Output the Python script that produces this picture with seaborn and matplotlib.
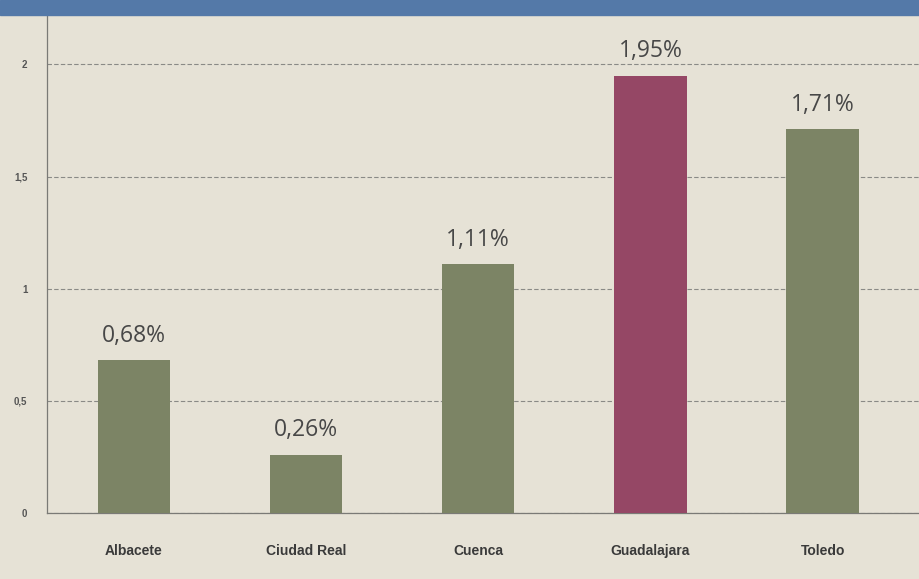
import matplotlib.pyplot as plt
import seaborn as sns
import pandas as pd
import numpy as np

provincias = ["Albacete", "Ciudad Real", "Cuenca", "Guadalajara", "Toledo"]
valores = [0.68, 0.26, 1.11, 1.95, 1.71]
destacado = ["no", "no", "no", "si", "no"]
y_ticks = [0, 0.5, 1, 1.5, 2]
y_tick_labels = ["0", "0,5", "1", "1,5", "2"]

df = pd.DataFrame({"provincia": provincias, "valor": valores, "grupo": destacado})

sns.set_theme(style="white")
plt.rcParams["font.family"] = ["Liberation Sans", "DejaVu Sans"]

fig = plt.figure(figsize=(9.19, 5.79), dpi=100)
fig.patch.set_facecolor("#e6e2d6")
ax = fig.add_axes([0.051, 0.114, 0.949, 0.86])
ax.set_facecolor("#e6e2d6")

# banda azul superior
fig.add_artist(plt.Rectangle((0, 0.974), 1, 0.026, transform=fig.transFigure,
                             color="#5479a8", zorder=5))

sns.barplot(data=df, x="provincia", y="valor", hue="grupo",
            palette={"no": "#7e8960", "si": "#a23a62"},
            dodge=False, width=0.42, legend=False, ax=ax, zorder=3,
            linewidth=0, edgecolor="none")

for cont in ax.containers:
    etiquetas = [f"{v:.2f}%".replace(".", ",") if not np.isnan(v) else ""
                 for v in cont.datavalues]
    ax.bar_label(cont, labels=etiquetas, padding=9, fontsize=16.5,
                 color="#474747", fontweight="medium",
                 family=["Open Sans", "DejaVu Sans"])

ax.set_ylim(0, 2.22)
ax.set_xlim(-0.505, 4.56)
ax.set_yticks(y_ticks)
ax.set_yticklabels(y_tick_labels, fontsize=7, fontweight="bold", color="#555555")
ax.yaxis.grid(True, linestyle=(0, (4, 2)), color="#8a8a86", linewidth=0.8, zorder=0)
ax.set_xticks(range(len(provincias)))
ax.set_xticklabels(provincias, fontsize=10, fontweight="bold", color="#3a3a3a")
ax.set_xticks(np.arange(0.5, 4.6, 1), minor=True)
ax.tick_params(axis="x", which="major", length=0, pad=22)
ax.tick_params(axis="x", which="minor", length=4, color="#777777", direction="out")
ax.tick_params(axis="y", length=4, color="#777777", pad=10)
ax.set_xlabel("")
ax.set_ylabel("")

for s in ["top", "right"]:
    ax.spines[s].set_visible(False)
for s in ["left", "bottom"]:
    ax.spines[s].set_color("#7a7a76")
    ax.spines[s].set_linewidth(0.9)

plt.savefig("out.png", dpi=100, facecolor=fig.get_facecolor())
